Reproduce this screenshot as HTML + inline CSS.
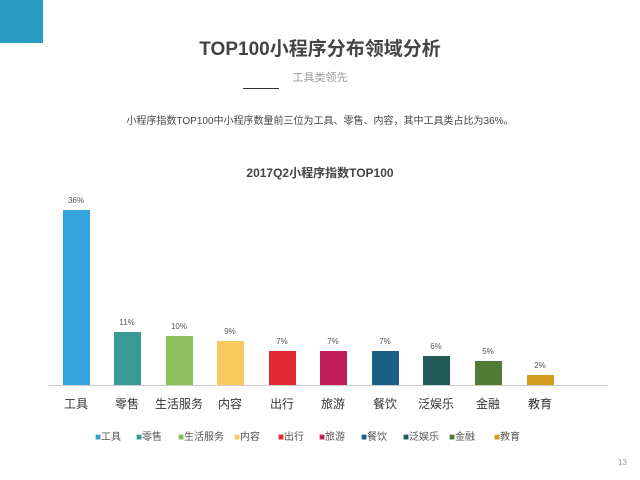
<!DOCTYPE html>
<html><head><meta charset="utf-8"><style>
body{margin:0;width:640px;height:480px;background:#fff;position:relative;overflow:hidden;font-family:"Liberation Sans","Noto Sans CJK SC",sans-serif}
.a{position:absolute;white-space:nowrap}
.bar{position:absolute;width:27px}
.v{position:absolute;font-size:8px;color:#555;width:40px;text-align:center}
.c{position:absolute;top:395px;font-size:12px;color:#333;width:60px;text-align:center}
.l{position:absolute;top:428px;font-size:10px;color:#555;white-space:nowrap}
</style></head><body>
<div class="a" style="left:0;top:0;width:43px;height:43px;background:#2b9cc4"></div>
<div class="a" style="left:0;top:34px;width:640px;text-align:center;font-size:19px;font-weight:bold;color:#444">TOP100小程序分布领域分析</div>
<div class="a" style="left:0;top:69px;width:640px;text-align:center;font-size:11px;color:#999">工具类领先</div>
<div class="a" style="left:243px;top:88px;width:36px;height:1px;background:#333"></div>
<div class="a" style="left:0;top:112px;width:640px;text-align:center;font-size:10px;color:#444">小程序指数TOP100中小程序数量前三位为工具、零售、内容，其中工具类占比为36%。</div>
<div class="a" style="left:0;top:164px;width:640px;text-align:center;font-size:12px;font-weight:bold;color:#444">2017Q2小程序指数TOP100</div>
<div class="a" style="left:48px;top:385px;width:560px;height:1px;background:#ccc"></div>
<div class="bar" style="left:63px;top:210px;height:175px;background:#34a3dc"></div>
<div class="bar" style="left:114px;top:332px;height:53px;background:#3a9a96"></div>
<div class="bar" style="left:166px;top:336px;height:49px;background:#8cbf5a"></div>
<div class="bar" style="left:217px;top:341px;height:44px;background:#f7c95e"></div>
<div class="bar" style="left:269px;top:351px;height:34px;background:#e1272f"></div>
<div class="bar" style="left:320px;top:351px;height:34px;background:#c01f5c"></div>
<div class="bar" style="left:372px;top:351px;height:34px;background:#1b5f86"></div>
<div class="bar" style="left:423px;top:356px;height:29px;background:#225a5a"></div>
<div class="bar" style="left:475px;top:361px;height:24px;background:#4f7b34"></div>
<div class="bar" style="left:527px;top:375px;height:10px;background:#d29a1e"></div>
<div class="v" style="left:56px;top:196px">36%</div>
<div class="v" style="left:107px;top:318px">11%</div>
<div class="v" style="left:159px;top:322px">10%</div>
<div class="v" style="left:210px;top:327px">9%</div>
<div class="v" style="left:262px;top:337px">7%</div>
<div class="v" style="left:313px;top:337px">7%</div>
<div class="v" style="left:365px;top:337px">7%</div>
<div class="v" style="left:416px;top:342px">6%</div>
<div class="v" style="left:468px;top:347px">5%</div>
<div class="v" style="left:520px;top:361px">2%</div>
<div class="c" style="left:46px">工具</div>
<div class="c" style="left:97px">零售</div>
<div class="c" style="left:149px">生活服务</div>
<div class="c" style="left:200px">内容</div>
<div class="c" style="left:252px">出行</div>
<div class="c" style="left:303px">旅游</div>
<div class="c" style="left:355px">餐饮</div>
<div class="c" style="left:406px">泛娱乐</div>
<div class="c" style="left:458px">金融</div>
<div class="c" style="left:510px">教育</div>
<div class="l" style="left:95px"><span style="color:#34a3dc">■</span>工具</div>
<div class="l" style="left:136px"><span style="color:#3a9a96">■</span>零售</div>
<div class="l" style="left:178px"><span style="color:#8cbf5a">■</span>生活服务</div>
<div class="l" style="left:234px"><span style="color:#f7c95e">■</span>内容</div>
<div class="l" style="left:278px"><span style="color:#e1272f">■</span>出行</div>
<div class="l" style="left:319px"><span style="color:#c01f5c">■</span>旅游</div>
<div class="l" style="left:361px"><span style="color:#1b5f86">■</span>餐饮</div>
<div class="l" style="left:403px"><span style="color:#225a5a">■</span>泛娱乐</div>
<div class="l" style="left:449px"><span style="color:#4f7b34">■</span>金融</div>
<div class="l" style="left:494px"><span style="color:#d29a1e">■</span>教育</div>
<div class="a" style="left:618px;top:458px;font-size:8px;color:#999">13</div>
</body></html>
